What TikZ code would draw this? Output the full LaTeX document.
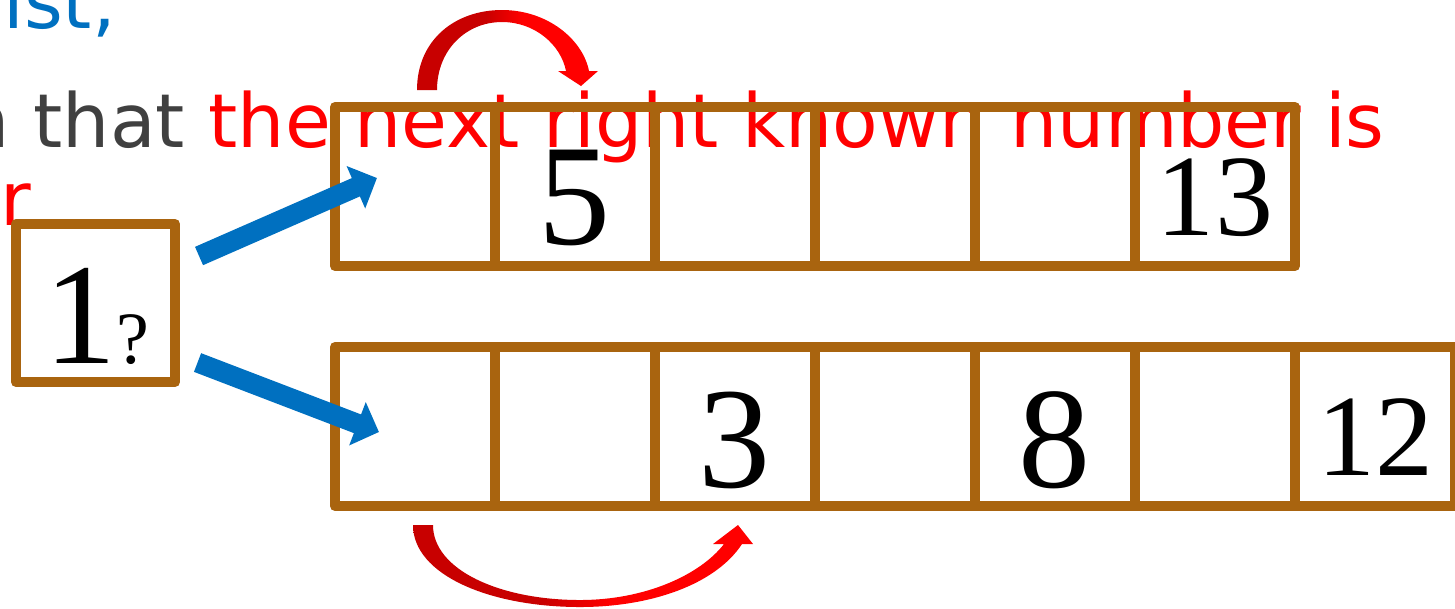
\documentclass[tikz,border=0pt]{standalone}
\usepackage{fontspec}
\setmainfont{Liberation Serif}
\newfontfamily\hintfont{DejaVu Sans}
\usetikzlibrary{arrows.meta, calc}
\definecolor{boxbrown}{HTML}{A9640F}
\definecolor{hintblue}{HTML}{0070C0}
\definecolor{hintgray}{HTML}{404040}
\definecolor{hintred}{HTML}{FF0000}
\definecolor{jumpdark}{HTML}{C80000}
\pgfdeclarehorizontalshading{jumpshade}{100bp}{color(0bp)=(jumpdark); color(44bp)=(jumpdark); color(54bp)=(hintred); color(100bp)=(hintred)}

\begin{document}
\begin{tikzpicture}[
    x=0.01cm, y=-0.01cm,
    every node/.style={inner sep=0pt},
    txt/.style={font=\hintfont\fontsize{21.2}{25}\selectfont, anchor=base west},
    cell/.style={
        rectangle, draw=boxbrown, line width=0.1cm, line join=round,
        outer sep=0pt, minimum width=1.6cm, minimum height=1.59cm,
    },
    num/.style={font=\fontsize{#1}{#1}\selectfont, anchor=base},
    push/.style={draw=hintblue, line width=0.2cm, -{Triangle[length=0.23cm, width=0.45cm]}},
    jump/.style={shading=jumpshade},
]
\useasboundingbox (0,0) rectangle (1455,608);
\clip (0,0) rectangle (1455,608);

% ---------------------------------------------------------------- hint text
\node[txt, text=hintblue] (hint1) at (-18,28) {list,};
\node[txt, text=hintgray] (hint2) at (-38,147)
    {n that \textcolor{hintred}{the next right known number is}};
\node[txt, text=hintred] (hint3) at (0,225) {r};

% ---------------------------------------------------------------- rows
\foreach \i in {1,...,6}{
    \node[cell] (top\i) at (255+160*\i, 186.5) {};
}
\foreach \i in {1,...,7}{
    \node[cell] (bot\i) at (255+160*\i, 426.5) {};
}

\node[num=41] (v5)  at ($(top2.center)+(0,58)$)   {5};
\node[num=33] (v13) at ($(top6.center)+(0,48.5)$) {13};
\node[num=41] (v3)  at ($(bot3.center)+(0,60.5)$) {3};
\node[num=41] (v8)  at ($(bot5.center)+(0,60.5)$) {8};
\node[num=33] (v12) at ($(bot7.center)+(0,48.5)$) {12};

% ---------------------------------------------------------------- query
\node[cell, minimum width=1.59cm, minimum height=1.58cm] (query) at (95.5,303) {};
\node[anchor=base west] (qv) at (44,363)
    {\fontsize{41}{41}\selectfont 1\fontsize{21}{21}\selectfont ?};

% ---------------------------------------------------------------- arrows
\coordinate (pushA0) at ($(query.east)+(24,-47)$);
\coordinate (pushA1) at ($(top1.west)+(42,-8.5)$);
\coordinate (pushB0) at ($(query.east)+(22.5,59.5)$);
\coordinate (pushB1) at ($(bot1.west)+(44,5.5)$);
\draw[push] (pushA0) -- (pushA1);
\draw[push] (pushB0) -- (pushB1);

% jump over the gap, top row
\shade[jump] (417,90) .. controls (417,40) and (455,10) .. (502,10)
    .. controls (548,10) and (583,40) .. (589,71) -- (598,71) -- (581,86)
    -- (558,71) -- (566,71) .. controls (561,45) and (535,22) .. (502,22)
    .. controls (466,22) and (437,50) .. (437,90) -- cycle;

% jump over the gap, bottom row
\shade[jump] (413,525) .. controls (413,575) and (490,607) .. (580,607)
    .. controls (650,607) and (715,585) .. (742,544) -- (753,544) -- (738,525)
    -- (713,544) -- (724,544) .. controls (700,575) and (645,600) .. (580,600)
    .. controls (500,600) and (433,570) .. (433,525) -- cycle;

\end{tikzpicture}
\end{document}
